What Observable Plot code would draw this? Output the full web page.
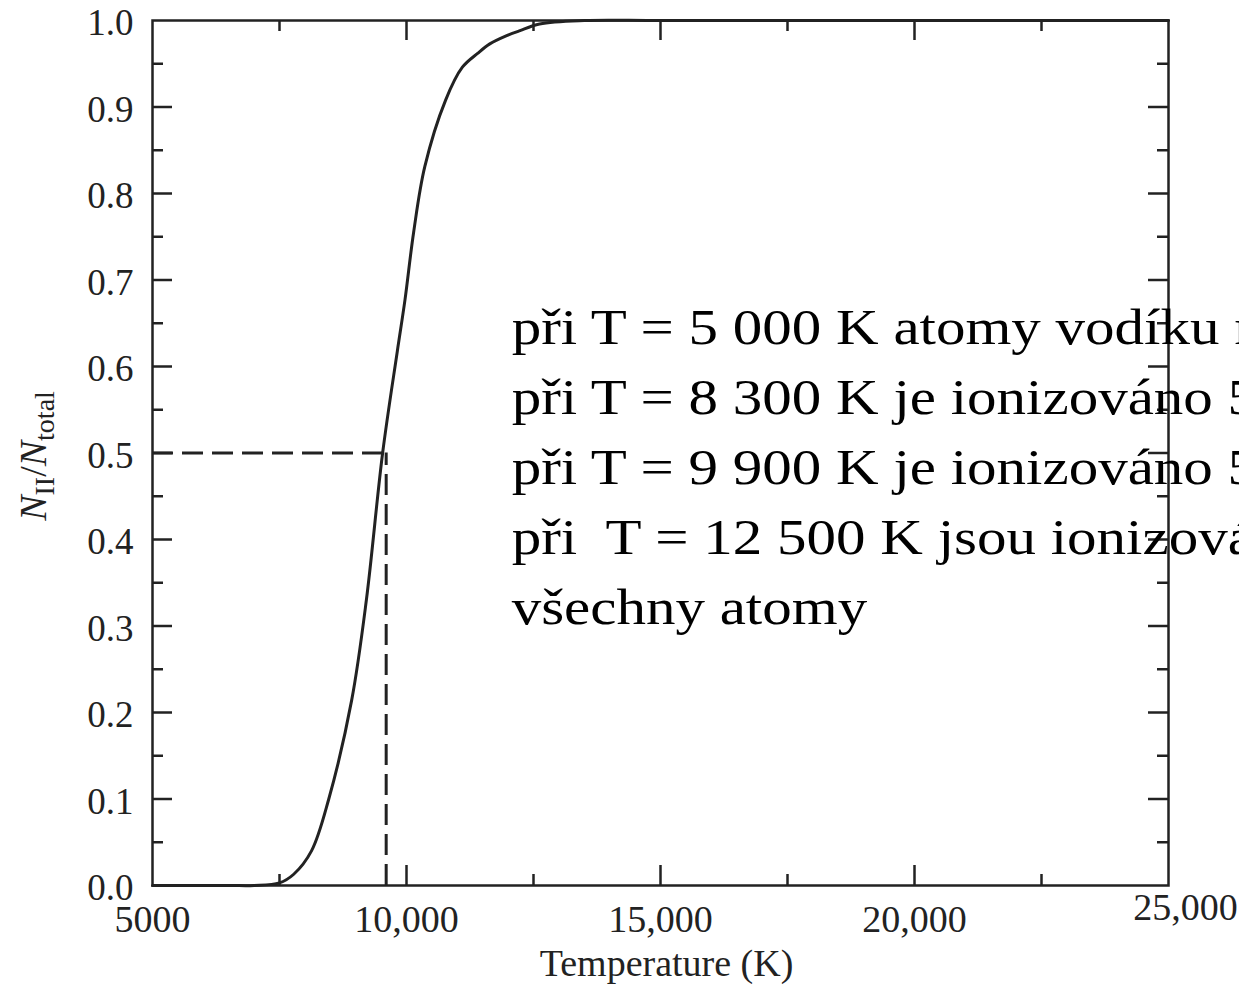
<!DOCTYPE html>
<html><head><meta charset="utf-8">
<script src="https://cdn.jsdelivr.net/npm/d3@7"></script>
<script src="https://cdn.jsdelivr.net/npm/@observablehq/plot@0.6"></script>
<style>
html,body{margin:0;padding:0;background:#fff;overflow:hidden;}
#chart{width:1239px;height:994px;}
</style></head><body><div id="chart"></div>
<script>
// Curve: temperature (K) vs ionised fraction N_II/N_total
const temperature = [5000, 6500, 7000, 7500, 7780, 8130, 8470, 8920, 9210, 9530, 9820, 9970, 10140, 10360, 10770, 11100, 11400, 11640, 11950, 12220, 12620, 13500, 15000, 20000, 25000];
const fraction    = [0.000, 0.000, 0.000, 0.003, 0.013, 0.040, 0.100, 0.214, 0.330, 0.500, 0.618, 0.677, 0.755, 0.831, 0.908, 0.946, 0.962, 0.973, 0.982, 0.988, 0.996, 1.000, 1.000, 1.000, 1.000];

// Half-ionisation guide (dashed lines)
const halfTemperature = 9600;
const halfFraction = 0.5;

// Axis ticks and labels
const xTicks = [5000, 10000, 15000, 20000, 25000];
const xTickLabels = ["5000", "10,000", "15,000", "20,000", "25,000"];
const xMinorTicks = [7500, 12500, 17500, 22500];
const yTicks = [0, 0.1, 0.2, 0.3, 0.4, 0.5, 0.6, 0.7, 0.8, 0.9, 1.0];
const yTickLabels = ["0.0", "0.1", "0.2", "0.3", "0.4", "0.5", "0.6", "0.7", "0.8", "0.9", "1.0"];
const yMinorTicks = [0.05, 0.15, 0.25, 0.35, 0.45, 0.55, 0.65, 0.75, 0.85, 0.95];
const xTitle = "Temperature (K)";

// Czech annotation (as visible in the picture, cut by its right edge)
const noteLines = [
  "při T = 5 000 K atomy vodíku n",
  "při T = 8 300 K je ionizováno 5",
  "při T = 9 900 K je ionizováno 5",
  "při  T = 12 500 K jsou ionizová",
  "všechny atomy"
];
const noteT = 12070;
const noteFrac = 0.49;

const curve = temperature.map((t, i) => ({t, f: fraction[i]}));

const W = 1239, H = 994;
const mL = 152, mR = 71, mT = 20, mB = 109;
const plotW = W - mL - mR, plotH = H - mT - mB;
const ink = "#222";
const serif = "'Liberation Serif', 'Times New Roman', serif";
const majorLen = 20, minorLen = 11, tw = 2.5;
const noteStretch = 1.18;

const innerX = xTicks.filter(d => d !== 5000 && d !== 25000);
const innerY = yTicks.filter(d => d !== 0 && d !== 1);

const chart = Plot.plot({
  width: W, height: H,
  marginLeft: mL, marginRight: mR, marginTop: mT, marginBottom: mB,
  style: {fontFamily: serif, color: ink, background: "white"},
  x: {domain: [5000, 25000]},
  y: {domain: [0, 1]},
  marks: [
    // dashed guides
    Plot.ruleY([halfFraction], {x1: 5000, x2: halfTemperature, stroke: ink, strokeWidth: 3, strokeDasharray: "21,9"}),
    Plot.ruleX([halfTemperature], {y1: 0, y2: halfFraction, stroke: ink, strokeWidth: 3, strokeDasharray: "21,9"}),
    // curve
    Plot.line(curve, {x: "t", y: "f", stroke: ink, strokeWidth: 3, curve: "catmull-rom"}),
    // inward ticks
    Plot.tickX(innerX, {x: d => d, insetTop: plotH - majorLen, stroke: ink, strokeWidth: tw}),
    Plot.tickX(innerX, {x: d => d, insetBottom: plotH - majorLen, stroke: ink, strokeWidth: tw}),
    Plot.tickX(xMinorTicks, {x: d => d, insetTop: plotH - minorLen, stroke: ink, strokeWidth: tw}),
    Plot.tickX(xMinorTicks, {x: d => d, insetBottom: plotH - minorLen, stroke: ink, strokeWidth: tw}),
    Plot.tickY(innerY, {y: d => d, insetRight: plotW - majorLen, stroke: ink, strokeWidth: tw}),
    Plot.tickY(innerY, {y: d => d, insetLeft: plotW - majorLen, stroke: ink, strokeWidth: tw}),
    Plot.tickY(yMinorTicks, {y: d => d, insetRight: plotW - minorLen, stroke: ink, strokeWidth: tw}),
    Plot.tickY(yMinorTicks, {y: d => d, insetLeft: plotW - minorLen, stroke: ink, strokeWidth: tw}),
    Plot.frame({stroke: ink, strokeWidth: tw}),
    // tick labels
    Plot.axisX(xTicks.slice(0, 4), {anchor: "bottom", tickSize: 0, tickPadding: 20, fontSize: 38, label: null,
      tickFormat: d => xTickLabels[xTicks.indexOf(d)]}),
    Plot.text(xTicks.slice(4), {x: d => d, y: 0, text: d => xTickLabels[xTicks.indexOf(d)], fontSize: 38, lineAnchor: "top", dx: 17, dy: 8}),
    Plot.axisY(yTicks, {anchor: "left", tickSize: 0, tickPadding: 19, fontSize: 37, label: null, dy: 3,
      tickFormat: d => yTickLabels[yTicks.indexOf(d)]}),
    // x title
    Plot.text([xTitle], {frameAnchor: "bottom", dy: 90, dx: 6, fontSize: 38}),
    // annotation
    Plot.text([noteLines.join("\n")], {x: noteT, y: noteFrac, text: d => d, textAnchor: "start", lineAnchor: "middle", fontSize: 50, lineHeight: 1.4, fill: "#000"})
  ]
});

document.getElementById("chart").appendChild(chart);
const svg = d3.select(chart);

// horizontally stretch the annotation about its own anchor (the reference text is wider than the font)
svg.selectAll("text").filter(function() { return this.textContent.startsWith("při"); })
  .each(function() {
    const prev = d3.select(this).attr("transform") || "";
    d3.select(this).attr("transform", `${prev} scale(${noteStretch},1)`);
  });

// y-axis title with subscripts
const yt = svg.append("text")
  .attr("transform", "translate(46,456) rotate(-90)")
  .attr("text-anchor", "middle")
  .attr("font-family", serif)
  .attr("font-size", 38)
  .attr("fill", ink);
yt.append("tspan").attr("font-style", "italic").text("N");
yt.append("tspan").attr("font-size", 28).attr("dy", 8).text("II");
yt.append("tspan").attr("dy", -8).text("/");
yt.append("tspan").attr("font-style", "italic").text("N");
yt.append("tspan").attr("font-size", 28).attr("dy", 8).text("total");
</script></body></html>
